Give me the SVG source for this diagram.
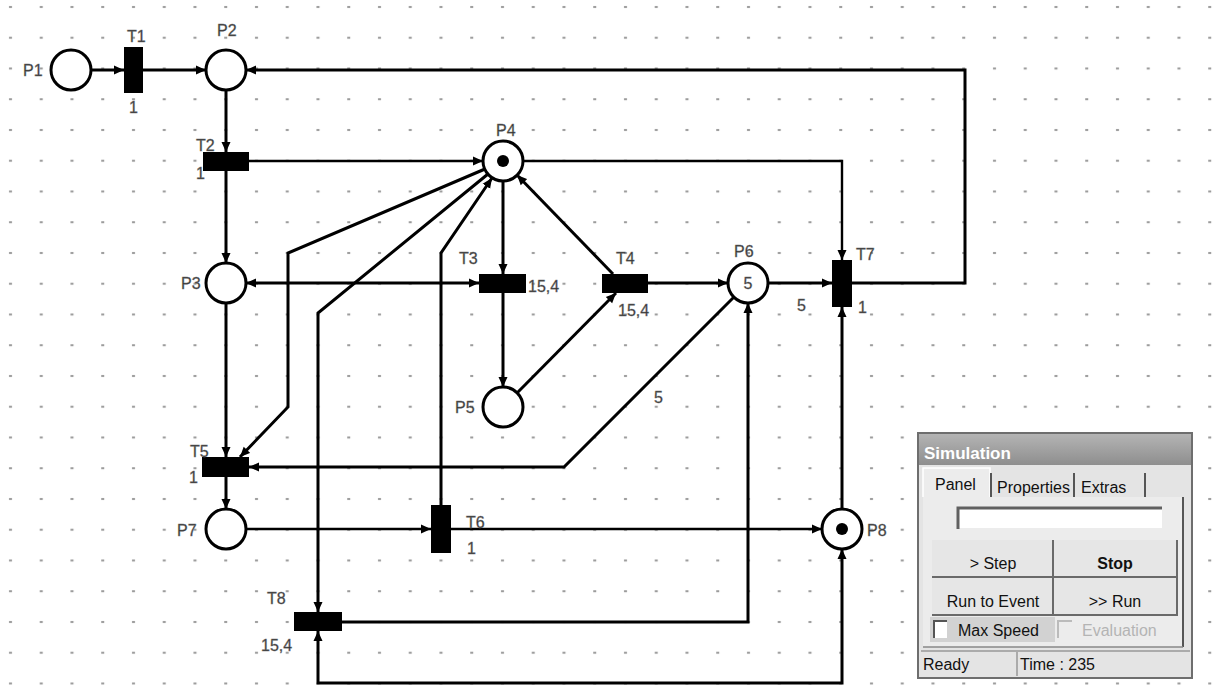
<svg xmlns="http://www.w3.org/2000/svg" width="1219" height="685" viewBox="0 0 1219 685">
<defs>
<pattern id="grid" x="0" y="0" width="30.75" height="30.75" patternUnits="userSpaceOnUse">
<rect x="9" y="6" width="3" height="2" fill="#9a9a9a"/>
</pattern>
<marker id="arr" markerUnits="userSpaceOnUse" markerWidth="11" markerHeight="10" refX="10" refY="5" orient="auto-start-reverse">
<path d="M0,0.5 L10,5 L0,9.5 z" fill="#000"/>
</marker>
<linearGradient id="tbar" x1="0" y1="0" x2="0" y2="1">
<stop offset="0" stop-color="#b4b4b4"/>
<stop offset="1" stop-color="#8e8e8e"/>
</linearGradient>
<style>
.place{fill:#fff;stroke:#000;stroke-width:3}
.trans{fill:#000}
.tok{fill:#000}
.lbl{font-family:"Liberation Sans",Arial,sans-serif;font-size:16px;fill:#333;stroke:#777;stroke-width:0.4}
.arc{fill:none;stroke:#000;stroke-width:3;marker-end:url(#arr)}
.bi{fill:none;stroke:#000;stroke-width:3;marker-start:url(#arr);marker-end:url(#arr)}
.thin{stroke-width:2.4}
.ui{font-family:"Liberation Sans",Arial,sans-serif;font-size:16px;fill:#111}
</style>
</defs>
<rect width="1219" height="685" fill="#fff"/>
<rect width="1219" height="685" fill="url(#grid)"/>

<g id="connectors">
<path class="arc" d="M91,70 L124,70"/>
<path class="arc" d="M143,70 L206,70"/>
<path class="arc" d="M852,283 L965,283 L965,70 L246,70"/>
<path class="arc" d="M226,90 L226,152"/>
<path class="arc thin" d="M249,161 L483,161"/>
<path class="arc" d="M226,171 L226,263"/>
<path class="arc thin" d="M523,161 L842,161 L842,260"/>
<path class="arc" d="M503,181 L503,274"/>
<path class="arc" d="M613,274 L517,175"/>
<path class="bi" d="M246,283 L479,283"/>
<path class="arc" d="M503,293 L503,387"/>
<path class="arc" d="M517,393 L616,293"/>
<path class="arc" d="M648,283 L728,283"/>
<path class="arc" d="M768,283 L832,283"/>
<path class="arc" d="M226,303 L226,457"/>
<path class="arc" d="M734,297 L564,467 L249,467"/>
<path class="arc" d="M485,169 L288,253 L288,407 L240,457"/>
<path class="arc" d="M488,174 L318,313 L318,612"/>
<path class="arc" d="M441,505 L441,253 L492,178"/>
<path class="arc thin" d="M246,529 L431,529"/>
<path class="arc thin" d="M451,529 L822,529"/>
<path class="arc" d="M842,509 L842,307"/>
<path class="arc" d="M342,622 L748,622 L748,303"/>
<path class="bi" d="M318,631 L318,683 L842,683 L842,549"/>
<path class="arc" d="M226,477 L226,509"/>
</g>

<g id="P1"><circle class="place" cx="71" cy="70" r="20"/><text class="lbl" x="23" y="76">P1</text></g>
<g id="T1"><rect class="trans" x="124" y="47" width="19" height="46"/><text class="lbl" x="127" y="42">T1</text><text class="lbl" x="129" y="113">1</text></g>
<g id="P2"><circle class="place" cx="226" cy="70" r="20"/><text class="lbl" x="217" y="36">P2</text></g>
<g id="T2"><rect class="trans" x="203" y="152" width="46" height="19"/><text class="lbl" x="196" y="151">T2</text><text class="lbl" x="196" y="179">1</text></g>
<g id="P4"><circle class="place" cx="503" cy="161" r="20"/><circle class="tok" cx="503" cy="161" r="6"/><text class="lbl" x="496" y="136">P4</text></g>
<g id="P3"><circle class="place" cx="226" cy="283" r="20"/><text class="lbl" x="181" y="289">P3</text></g>
<g id="T3"><rect class="trans" x="479" y="274" width="47" height="19"/><text class="lbl" x="459" y="264">T3</text><text class="lbl" x="528" y="292">15,4</text></g>
<g id="T4"><rect class="trans" x="602" y="274" width="46" height="19"/><text class="lbl" x="616" y="264">T4</text><text class="lbl" x="618" y="316">15,4</text></g>
<g id="P6"><circle class="place" cx="748" cy="283" r="20"/><text class="lbl" x="748" y="289" text-anchor="middle">5</text><text class="lbl" x="734" y="257">P6</text><text class="lbl" x="797" y="311">5</text><text class="lbl" x="654" y="403">5</text></g>
<g id="T7"><rect class="trans" x="832" y="260" width="20" height="47"/><text class="lbl" x="856" y="260">T7</text><text class="lbl" x="858" y="313">1</text></g>
<g id="P5"><circle class="place" cx="503" cy="407" r="20"/><text class="lbl" x="455" y="413">P5</text></g>
<g id="T5"><rect class="trans" x="202" y="457" width="47" height="20"/><text class="lbl" x="190" y="457">T5</text><text class="lbl" x="189" y="483">1</text></g>
<g id="P7"><circle class="place" cx="226" cy="529" r="20"/><text class="lbl" x="177" y="536">P7</text></g>
<g id="T6"><rect class="trans" x="431" y="505" width="20" height="48"/><text class="lbl" x="466" y="528">T6</text><text class="lbl" x="467" y="554">1</text></g>
<g id="P8"><circle class="place" cx="842" cy="529" r="20"/><circle class="tok" cx="842" cy="529" r="6"/><text class="lbl" x="867" y="536">P8</text></g>
<g id="T8"><rect class="trans" x="294" y="612" width="48" height="19"/><text class="lbl" x="267" y="604">T8</text><text class="lbl" x="261" y="651">15,4</text></g>

<g id="simulation">
<rect x="918" y="433" width="274" height="245" fill="#e4e4e4" stroke="#6e6e6e" stroke-width="2"/>
<rect x="919" y="434" width="272" height="31" fill="url(#tbar)"/>
<text x="924" y="459" font-family="Liberation Sans,Arial,sans-serif" font-size="17" font-weight="bold" fill="#fff">Simulation</text>
<rect x="923" y="497" width="260" height="150" fill="#ececec"/>
<line x1="1183" y1="497" x2="1183" y2="647" stroke="#555" stroke-width="2"/>
<line x1="923" y1="647" x2="1183" y2="647" stroke="#888" stroke-width="1.5"/>
<path d="M923,497 L923,468 L990,468 L990,497" fill="#ececec" stroke="#fff" stroke-width="1.5"/>
<line x1="991" y1="473" x2="991" y2="497" stroke="#555" stroke-width="2"/>
<line x1="1074" y1="473" x2="1074" y2="497" stroke="#555" stroke-width="2"/>
<line x1="1145" y1="473" x2="1145" y2="497" stroke="#555" stroke-width="2"/>
<text class="ui" x="935" y="490">Panel</text>
<text class="ui" x="997" y="493">Properties</text>
<text class="ui" x="1081" y="493">Extras</text>
<rect x="957" y="507" width="205" height="21" fill="#fff"/>
<path d="M958,529 L958,508 L1162,508" fill="none" stroke="#606060" stroke-width="3"/>
<g>
<rect x="932" y="540" width="121" height="37" fill="#e6e6e6"/>
<rect x="1054" y="540" width="123" height="37" fill="#e6e6e6"/>
<rect x="932" y="578" width="121" height="37" fill="#e6e6e6"/>
<rect x="1054" y="578" width="123" height="37" fill="#e6e6e6"/>
<path d="M932,577 L1053,577 L1053,540 M1054,577 L1177,577 L1177,540 M932,615 L1053,615 L1053,578 M1054,615 L1177,615 L1177,578" fill="none" stroke="#6a6a6a" stroke-width="2"/>
<text class="ui" x="993" y="569" text-anchor="middle">&gt; Step</text>
<text class="ui" x="1115" y="569" text-anchor="middle" font-weight="bold">Stop</text>
<text class="ui" x="993" y="607" text-anchor="middle">Run to Event</text>
<text class="ui" x="1115" y="607" text-anchor="middle">&gt;&gt; Run</text>
</g>
<rect x="930" y="617" width="125" height="25" fill="#d2d2d2"/>
<rect x="934" y="621" width="13" height="17" fill="#fff"/>
<path d="M934,638 L934,621 L947,621" fill="none" stroke="#555" stroke-width="2"/>
<text class="ui" x="958" y="636">Max Speed</text>
<path d="M1058,638 L1058,621 L1072,621" fill="none" stroke="#bbb" stroke-width="2"/>
<text class="ui" x="1082" y="636" style="fill:#b4b4b4">Evaluation</text>
<line x1="921" y1="651" x2="1190" y2="651" stroke="#999" stroke-width="1.5"/>
<line x1="1017" y1="652" x2="1017" y2="676" stroke="#999" stroke-width="1.5"/>
<text class="ui" x="923" y="670">Ready</text>
<text class="ui" x="1020" y="670">Time : 235</text>
</g>
</svg>
